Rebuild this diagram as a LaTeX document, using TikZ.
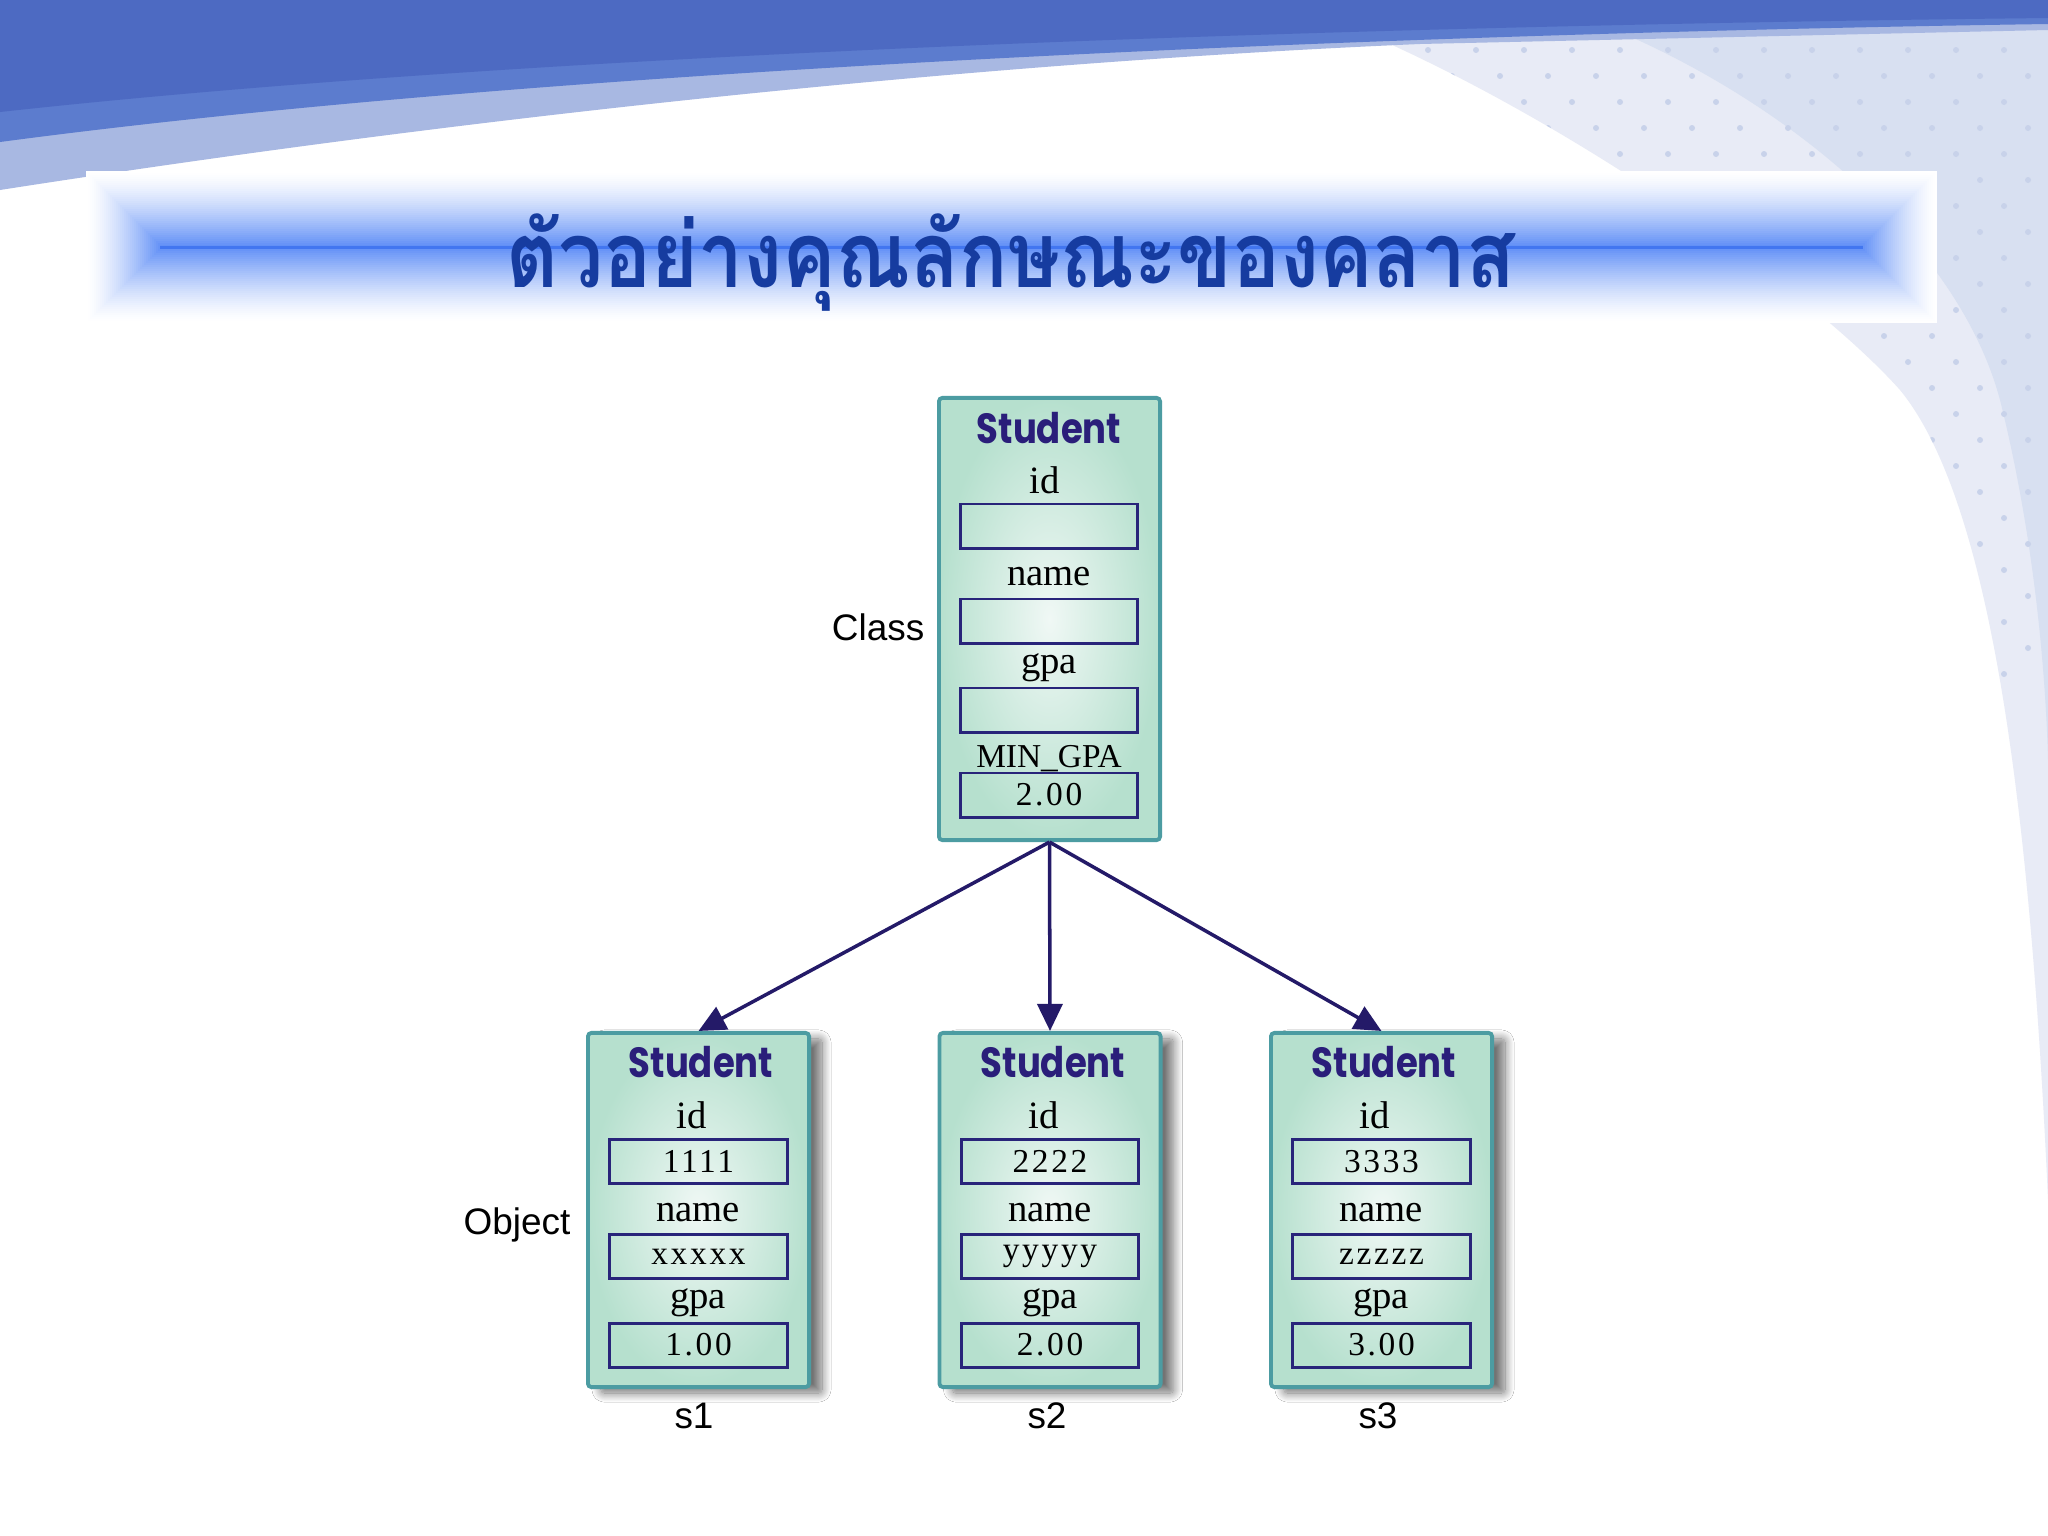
\documentclass[tikz,border=0pt]{standalone}
\usepackage{fontspec}
\setmainfont{Liberation Serif}
\setsansfont{Liberation Sans}
\newfontfamily\thaifont[Script=Thai]{Loma}
\newfontfamily\headfont{Poppins}
\newfontfamily\valfont[LetterSpace=8]{Liberation Serif}
\usepackage{xcolor}
\usepackage{graphicx}
\usepackage{tikz}
\usetikzlibrary{arrows.meta,positioning,shadows.blur}

\definecolor{swoopblue}{RGB}{77,106,194}
\definecolor{swoopmid}{RGB}{92,124,206}
\definecolor{swooplight}{RGB}{168,184,226}
\definecolor{paleband}{RGB}{232,235,246}
\definecolor{paleband2}{RGB}{216,224,241}
\definecolor{dotblue}{RGB}{200,210,234}
\definecolor{bannerblue}{RGB}{92,140,246}
\definecolor{bannerline}{RGB}{66,118,240}
\definecolor{titleblue}{RGB}{22,60,160}
\definecolor{boxedge}{RGB}{76,156,162}
\definecolor{boxfill}{RGB}{182,224,206}
\definecolor{boxlight}{RGB}{240,248,245}
\definecolor{fieldedge}{RGB}{40,36,122}
\definecolor{headink}{RGB}{42,30,122}
\definecolor{linkink}{RGB}{36,26,104}

\newcommand{\stuhead}{\scalebox{0.84}[1]{Student}}

\begin{document}
\begin{tikzpicture}[
  x=0.01cm, y=-0.01cm,
  classbox/.style={draw=boxedge, line width=1.1pt, rounded corners=1pt,
                   inner color=boxlight, outer color=boxfill,
                   minimum width=2.21cm, minimum height=4.42cm},
  objbox/.style={classbox, minimum height=3.54cm,
                 blur shadow={shadow xshift=0.13cm, shadow yshift=-0.06cm,
                              shadow opacity=55, shadow blur radius=0.09cm,
                              shadow blur steps=16}},
  field/.style={draw=fieldedge, line width=0.85pt, minimum width=1.77cm,
                minimum height=0.44cm, inner sep=0pt,
                font=\valfont\fontsize{9.5}{10}\selectfont},
  head/.style={anchor=base, inner sep=0pt, text=headink,
               font=\headfont\bfseries\fontsize{12}{13}\selectfont},
  attr/.style={anchor=base, inner sep=0pt, font=\fontsize{11}{12}\selectfont},
  tag/.style={anchor=base, inner sep=0pt, font=\sffamily\fontsize{10.5}{12}\selectfont},
  link/.style={-{Triangle[length=0.27cm, width=0.25cm]}, draw=linkink, line width=1pt}
]
\useasboundingbox (0,0) rectangle (2048,1536);

% Background
\fill[white] (0,0) rectangle (2048,1536);
\fill[paleband] (1390,44) .. controls (1600,140) and (1820,300) .. (1900,390)
  .. controls (1990,500) and (2030,800) .. (2048,1200) -- (2048,0) -- cycle;
\fill[paleband2] (1620,32) .. controls (1800,110) and (1960,250) .. (2000,400)
  .. controls (2030,520) and (2045,650) .. (2048,760) -- (2048,0) -- cycle;
\begin{scope}
  \clip (1390,44) .. controls (1600,140) and (1820,300) .. (1900,390)
    .. controls (1990,500) and (2030,800) .. (2048,1200) -- (2048,0) -- cycle;
  \foreach \r in {0,...,24}
    \foreach \c in {0,...,14}
      \fill[dotblue] ({1380+\c*48+mod(\r,2)*24},{50+\r*26}) circle (3);
\end{scope}
\fill[swooplight] (0,0) -- (2048,0) -- (2048,30) -- (1420,44)
  .. controls (1000,62) and (500,112) .. (0,190) -- cycle;
\fill[swoopmid] (0,0) -- (2048,0) -- (2048,24) .. controls (1500,32) and (600,62) .. (0,142) -- cycle;
\fill[swoopblue] (0,0) -- (2048,0) -- (2048,18) .. controls (1500,24) and (600,46) .. (0,112) -- cycle;

% Title banner
\foreach \i in {0,...,38} {
  \pgfmathsetmacro\p{100*(\i/38)^1.4}
  \fill[bannerblue!\p!white] ({86+2*\i},{171+2*\i}) rectangle ({1937-2*\i},{323-2*\i});
}
\fill[bannerline] (160,245.5) rectangle (1863,248.5);
\node[anchor=base, inner sep=0pt, text=titleblue, font=\thaifont\bfseries\fontsize{26}{30}\selectfont]
  (title) at (1011,287) {\scalebox{0.875}[1]{ตัวอย่างคุณลักษณะของคลาส}};

% Class
\node[classbox] (cls) at (1049.5,619) {};
\node[head] (cls-head) at (1049,443) {\stuhead};
\node[attr] (cls-idl) at (1045,493) {id};
\node[field] (cls-id) at (1049,526) {};
\node[attr] (cls-nml) at (1049,585) {name};
\node[field] (cls-nm) at (1049,621) {};
\node[attr] (cls-gpal) at (1049,673) {gpa};
\node[field] (cls-gpa) at (1049,710) {};
\node[font=\fontsize{9.5}{10}\selectfont, anchor=base, inner sep=0pt] (cls-minl) at (1049,767) {MIN\_GPA};
\node[field] (cls-min) at (1049,795) {2.00};
\node[tag, anchor=base east] (cls-tag) at (925,640) {Class};

% Objects
\node[objbox] (s1) at (698.5,1210) {};
\node[head] (s1-head) at (701,1077) {\stuhead};
\node[attr] (s1-idl) at (692,1128) {id};
\node[field] (s1-id) at (698.5,1161.5) {1111};
\node[attr] (s1-nml) at (698,1221) {name};
\node[field] (s1-nm) at (698.5,1256.5) {xxxxx};
\node[attr] (s1-gpal) at (698,1308) {gpa};
\node[field] (s1-gpa) at (698.5,1345) {1.00};
\node[tag] (s1-tag) at (694,1428) {s1};

\node[objbox] (s2) at (1050,1210) {};
\node[head] (s2-head) at (1053,1077) {\stuhead};
\node[attr] (s2-idl) at (1044,1128) {id};
\node[field] (s2-id) at (1050,1161.5) {2222};
\node[attr] (s2-nml) at (1050,1221) {name};
\node[field] (s2-nm) at (1050,1256.5) {yyyyy};
\node[attr] (s2-gpal) at (1050,1308) {gpa};
\node[field] (s2-gpa) at (1050,1345) {2.00};
\node[tag] (s2-tag) at (1047,1428) {s2};

\node[objbox] (s3) at (1381.5,1210) {};
\node[head] (s3-head) at (1384,1077) {\stuhead};
\node[attr] (s3-idl) at (1375,1128) {id};
\node[field] (s3-id) at (1381.5,1161.5) {3333};
\node[attr] (s3-nml) at (1381,1221) {name};
\node[field] (s3-nm) at (1381.5,1256.5) {zzzzz};
\node[attr] (s3-gpal) at (1381,1308) {gpa};
\node[field] (s3-gpa) at (1381.5,1345) {3.00};
\node[tag] (s3-tag) at (1378,1428) {s3};

\node[tag, anchor=base east] (obj-tag) at (571,1234) {Object};

% Arrows
\draw[link] (cls.south) -- (s1.north);
\draw[link] (cls.south) -- (s2.north);
\draw[link] (cls.south) -- (s3.north);
\end{tikzpicture}
\end{document}
